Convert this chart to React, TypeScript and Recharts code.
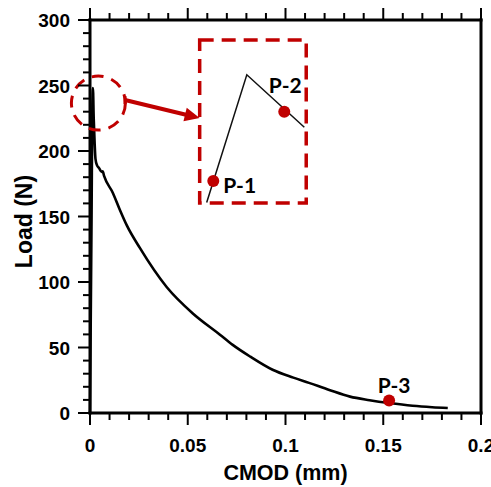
import React from 'react';
import { LineChart, Line, XAxis, YAxis, ReferenceArea, ReferenceDot, ReferenceLine, Label } from 'recharts';

// ---- main curve (CMOD in mm, Load in N) ----
const cmod = [0, 0.0008, 0.0012, 0.0015, 0.0019, 0.0024, 0.0028, 0.0036, 0.0046, 0.006, 0.0065, 0.0072, 0.0117, 0.0153, 0.0189, 0.0255, 0.0393, 0.0526, 0.0663, 0.073, 0.082, 0.0934, 0.104, 0.112, 0.1224, 0.133, 0.143, 0.153, 0.165, 0.175, 0.183];
const load = [0, 150, 235, 248, 225, 205, 194, 189, 187, 184, 184.5, 181, 168, 155, 143, 126, 96, 76, 60, 52, 43, 33, 27, 23, 17.6, 12.5, 9.8, 7.6, 5.5, 4.4, 3.8];

// ---- axes ----
const xMajorTicks = [0, 0.05, 0.1, 0.15, 0.2];
const xTickLabels = ['0', '0.05', '0.1', '0.15', '0.2'];
const xMinorTicks = [0.01, 0.02, 0.03, 0.04, 0.06, 0.07, 0.08, 0.09, 0.11, 0.12, 0.13, 0.14, 0.16, 0.17, 0.18, 0.19];
const yMajorTicks = [0, 50, 100, 150, 200, 250, 300];
const yTickLabels = ['0', '50', '100', '150', '200', '250', '300'];
const yMinorTicks = [10, 20, 30, 40, 60, 70, 80, 90, 110, 120, 130, 140, 160, 170, 180, 190, 210, 220, 230, 240, 260, 270, 280, 290];

// ---- annotations ----
const zoomCircle = { x: 0.0043, y: 236.6 };
const arrowFrom = { x: 0.0179, y: 238.9 };
const arrowTo = { x: 0.0561, y: 225.2 };
const zoomBox = { x1: 0.0561, x2: 0.1106, y1: 160.3, y2: 284.7 };
const p3 = { x: 0.153, y: 9.5, label: 'P-3' };

// ---- inset (zoomed peak) ----
const insetX = [0.00015, 0.00105, 0.00234];
const insetY = [215.1, 244.1, 232.2];
const insetDomainX = [0, 0.0024];
const insetDomainY = [215, 252];
const p1 = { x: 0.000298, y: 220.0, label: 'P-1' };
const p2 = { x: 0.00189, y: 235.7, label: 'P-2' };

const data = cmod.map((c, i) => ({ cmod: c, load: load[i] }));
const insetData = insetX.map((c, i) => ({ x: c, y: insetY[i] }));
const xTicks = [...xMajorTicks, ...xMinorTicks].sort((a, b) => a - b);
const yTicks = [...yMajorTicks, ...yMinorTicks].sort((a, b) => a - b);

const RED = '#C00000';
const FONT = '"Liberation Sans", Arial, sans-serif';
const LFONT = 'Lato, "Open Sans", sans-serif';
const MAJ = 12;
const MIN = 7;

const isMajor = (v: number, arr: number[]) => arr.some((m) => Math.abs(m - v) < 1e-9);
const labelOf = (v: number, arr: number[], labels: string[]) => {
  const i = arr.findIndex((m) => Math.abs(m - v) < 1e-9);
  return i >= 0 ? labels[i] : '';
};

const BottomTick = (p: any) => {
  const v = p.payload.value;
  const major = isMajor(v, xMajorTicks);
  return (
    <g>
      <line x1={p.x} y1={p.y} x2={p.x} y2={p.y + (major ? MAJ : MIN)} stroke="#000" strokeWidth={2} />
      {major && (
        <text x={p.x} y={p.y + 39} textAnchor="middle" fontFamily={FONT} fontWeight="bold" fontSize={19} fill="#000">
          {labelOf(v, xMajorTicks, xTickLabels)}
        </text>
      )}
    </g>
  );
};
const TopTick = (p: any) => {
  const major = isMajor(p.payload.value, xMajorTicks);
  return <line x1={p.x} y1={p.y} x2={p.x} y2={p.y - (major ? MAJ : MIN)} stroke="#000" strokeWidth={2} />;
};
const LeftTick = (p: any) => {
  const v = p.payload.value;
  const major = isMajor(v, yMajorTicks);
  return (
    <g>
      <line x1={p.x} y1={p.y} x2={p.x - (major ? MAJ : MIN)} y2={p.y} stroke="#000" strokeWidth={2} />
      {major && (
        <text x={p.x - 20} y={p.y + 7} textAnchor="end" fontFamily={FONT} fontWeight="bold" fontSize={19} fill="#000">
          {labelOf(v, yMajorTicks, yTickLabels)}
        </text>
      )}
    </g>
  );
};
const RightTick = (p: any) => {
  const major = isMajor(p.payload.value, yMajorTicks);
  return <line x1={p.x} y1={p.y} x2={p.x + (major ? MAJ : MIN)} y2={p.y} stroke="#000" strokeWidth={2} />;
};

const axisLine = { stroke: '#000', strokeWidth: 3, strokeLinecap: 'square' as const };

const Arrow = (p: any) => {
  const { x1, y1, x2, y2 } = p;
  const dx = x2 - x1;
  const dy = y2 - y1;
  const len = Math.sqrt(dx * dx + dy * dy);
  const ux = dx / len;
  const uy = dy / len;
  const hl = 15;
  const hw = 7;
  const bx = x2 - ux * hl;
  const by = y2 - uy * hl;
  const pts = `${x2},${y2} ${bx - uy * hw},${by + ux * hw} ${bx + uy * hw},${by - ux * hw}`;
  return (
    <g>
      <line x1={x1} y1={y1 - 4} x2={x1} y2={y1 + 4} stroke={RED} strokeWidth={3} />
      <line x1={x1} y1={y1} x2={bx + ux * 2} y2={by + uy * 2} stroke={RED} strokeWidth={4} />
      <polygon points={pts} fill={RED} />
    </g>
  );
};

export default function App() {
  return (
    <div style={{ position: 'absolute', left: 0, top: 0, width: 491, height: 487, background: '#fff' }}>
      <LineChart width={491} height={487} data={data} margin={{ top: 19, right: 9, bottom: 73, left: 89 }}>
        <XAxis
          xAxisId="b"
          dataKey="cmod"
          type="number"
          domain={[0, 0.2]}
          ticks={xTicks}
          interval={0}
          height={1}
          tickSize={0}
          tickMargin={0}
          tick={<BottomTick />}
          axisLine={axisLine}
          tickLine={false}
        >
          <Label
            content={(lp: any) => (
              <text
                x={lp.viewBox.x + lp.viewBox.width / 2}
                y={lp.viewBox.y + 67}
                textAnchor="middle"
                fontFamily={FONT}
                fontWeight="bold"
                fontSize={21.5}
                fill="#000"
              >
                CMOD (mm)
              </text>
            )}
          />
        </XAxis>
        <XAxis
          xAxisId="t"
          orientation="top"
          type="number"
          dataKey="cmod"
          domain={[0, 0.2]}
          ticks={xTicks}
          interval={0}
          height={1}
          tickSize={0}
          tickMargin={0}
          tick={<TopTick />}
          axisLine={axisLine}
          tickLine={false}
        />
        <YAxis
          yAxisId="l"
          type="number"
          domain={[0, 300]}
          ticks={yTicks}
          interval={0}
          width={1}
          tickSize={0}
          tickMargin={0}
          tick={<LeftTick />}
          axisLine={axisLine}
          tickLine={false}
        >
          <Label
            content={(lp: any) => {
              const cx = lp.viewBox.x - 57;
              const cy = lp.viewBox.y + lp.viewBox.height / 2 + 5;
              return (
                <text
                  x={cx}
                  y={cy}
                  transform={`rotate(-90, ${cx}, ${cy})`}
                  textAnchor="middle"
                  fontFamily={FONT}
                  fontWeight="bold"
                  fontSize={23}
                  fill="#000"
                >
                  Load (N)
                </text>
              );
            }}
          />
        </YAxis>
        <YAxis
          yAxisId="r"
          orientation="right"
          type="number"
          domain={[0, 300]}
          ticks={yTicks}
          interval={0}
          width={1}
          tickSize={0}
          tickMargin={0}
          tick={<RightTick />}
          axisLine={axisLine}
          tickLine={false}
        />
        <Line
          xAxisId="b"
          yAxisId="l"
          type="monotone"
          dataKey="load"
          stroke="#000"
          strokeWidth={2.6}
          strokeLinejoin="round"
          dot={false}
          activeDot={false}
          isAnimationActive={false}
        />
        <ReferenceDot
          xAxisId="b"
          yAxisId="l"
          x={zoomCircle.x}
          y={zoomCircle.y}
          ifOverflow="visible"
          shape={(p: any) => (
            <circle cx={p.cx} cy={p.cy} r={27} fill="none" stroke={RED} strokeWidth={3} strokeDasharray="12 8" />
          )}
        />
        <ReferenceLine
          xAxisId="b"
          yAxisId="l"
          ifOverflow="visible"
          segment={[arrowFrom, arrowTo]}
          shape={(p: any) => <Arrow {...p} />}
        />
        <ReferenceArea
          xAxisId="b"
          yAxisId="l"
          x1={zoomBox.x1}
          x2={zoomBox.x2}
          y1={zoomBox.y1}
          y2={zoomBox.y2}
          ifOverflow="visible"
          shape={(p: any) => (
            <rect x={p.x} y={p.y} width={p.width} height={p.height} fill="none" stroke={RED} strokeWidth={3.5} strokeDasharray="14 8" />
          )}
        />
        <ReferenceDot
          xAxisId="b"
          yAxisId="l"
          x={p3.x}
          y={p3.y}
          ifOverflow="visible"
          shape={(p: any) => (
            <g>
              <circle cx={p.cx} cy={p.cy} r={6} fill={RED} />
              <text x={p.cx + 5} y={p.cy - 8} textAnchor="middle" fontFamily={LFONT} fontWeight="bold" fontSize={21} fill="#000">
                {p3.label}
              </text>
            </g>
          )}
        />
      </LineChart>
      <div style={{ position: 'absolute', left: 200, top: 40, width: 107, height: 163 }}>
        <LineChart width={107} height={163} data={insetData} margin={{ top: 0, right: 0, bottom: 0, left: 0 }} style={{ overflow: 'visible' }}>
          <XAxis dataKey="x" type="number" domain={insetDomainX} hide />
          <YAxis type="number" domain={insetDomainY} hide />
          <Line type="linear" dataKey="y" stroke="#111" strokeWidth={1.5} dot={false} activeDot={false} isAnimationActive={false} />
          <ReferenceDot
            x={p1.x}
            y={p1.y}
            ifOverflow="visible"
            shape={(p: any) => (
              <g>
                <circle cx={p.cx} cy={p.cy} r={6} fill={RED} />
                <text x={p.cx + 10} y={p.cy + 12} textAnchor="start" fontFamily={LFONT} fontWeight="bold" fontSize={21} fill="#000">
                  {p1.label}
                </text>
              </g>
            )}
          />
          <ReferenceDot
            x={p2.x}
            y={p2.y}
            ifOverflow="visible"
            shape={(p: any) => (
              <g>
                <circle cx={p.cx} cy={p.cy} r={6} fill={RED} />
                <text x={p.cx + 1} y={p.cy - 19} textAnchor="middle" fontFamily={LFONT} fontWeight="bold" fontSize={21} fill="#000">
                  {p2.label}
                </text>
              </g>
            )}
          />
        </LineChart>
      </div>
    </div>
  );
}
